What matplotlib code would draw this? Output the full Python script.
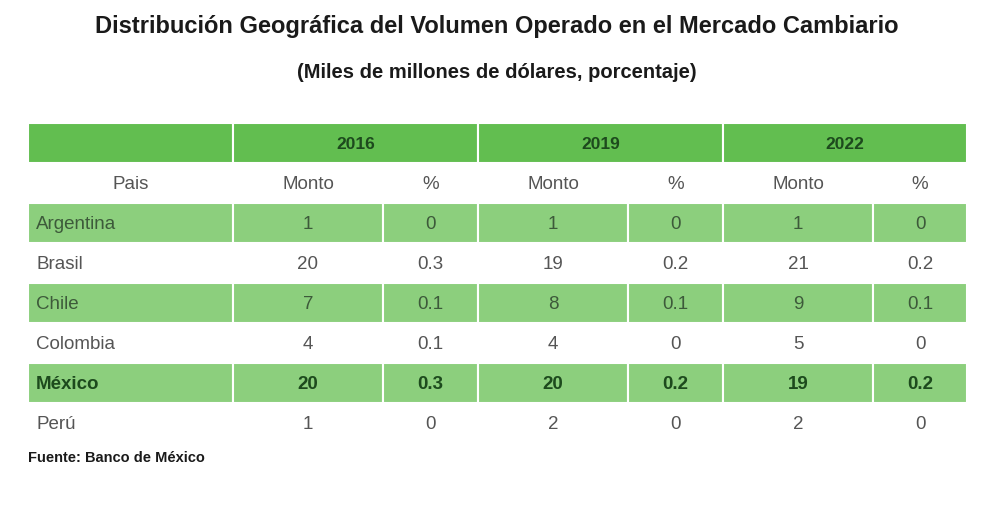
import matplotlib.pyplot as plt
from matplotlib.patches import Rectangle

years = ["2016", "2019", "2022"]
countries = ["Argentina", "Brasil", "Chile", "Colombia", "México", "Perú"]
monto_2016 = ["1", "20", "7", "4", "20", "1"]
pct_2016 = ["0", "0.3", "0.1", "0.1", "0.3", "0"]
monto_2019 = ["1", "19", "8", "4", "20", "2"]
pct_2019 = ["0", "0.2", "0.1", "0", "0.2", "0"]
monto_2022 = ["1", "21", "9", "5", "19", "2"]
pct_2022 = ["0", "0.2", "0.1", "0", "0.2", "0"]
shaded_rows = ["Argentina", "Chile", "México"]
bold_rows = ["México"]

title = "Distribución Geográfica del Volumen Operado en el Mercado Cambiario"
subtitle = "(Miles de millones de dólares, porcentaje)"
source = "Fuente: Banco de México"

# layout in pixels
col_edges = [28, 233, 383, 478, 628, 723, 873, 967]
top = 123
row_h = 40
dy = 1.5  # nudge text a bit down so it sits centred in the cells
header_col = "#62be50"
row_col = "#8ccf7d"
dark_green = "#1d4a1d"
cell_green_txt = "#3d5a3a"
gray_txt = "#555555"
body_fs = 13.5

plt.rcParams['font.family'] = ['Liberation Sans', 'DejaVu Sans']

fig = plt.figure(figsize=(10, 5.18), dpi=100)
ax = fig.add_axes([0, 0, 1, 1])
ax.set_xlim(0, 1000)
ax.set_ylim(518, 0)
ax.axis('off')

fig.text(0.497, 1 - 27 / 518, title, ha='center', va='center',
         fontsize=17, fontweight='bold', color='#1a1a1a')
fig.text(0.497, 1 - 73 / 518, subtitle, ha='center', va='center',
         fontsize=14.5, fontweight='bold', color='#1a1a1a')

def cell(x0, x1, y0, color):
    ax.add_patch(Rectangle((x0, y0), x1 - x0, row_h, facecolor=color,
                           edgecolor='white', linewidth=1.5))

# year header row
cell(col_edges[0], col_edges[1], top, header_col)
for k, yr in enumerate(years):
    x0 = col_edges[1 + 2 * k]
    x1 = col_edges[3 + 2 * k]
    cell(x0, x1, top, header_col)
    ax.text((x0 + x1) / 2, top + row_h / 2 + dy, yr, ha='center', va='center',
            fontsize=12.5, fontweight='bold', color=dark_green)

# subheader row
y_sub = top + row_h
ax.text((col_edges[0] + col_edges[1]) / 2, y_sub + row_h / 2 + dy, "Pais",
        ha='center', va='center', fontsize=body_fs, color=gray_txt)
for k in range(3):
    for j, lab in enumerate(["Monto", "%"]):
        x0 = col_edges[1 + 2 * k + j]
        x1 = col_edges[2 + 2 * k + j]
        ax.text((x0 + x1) / 2, y_sub + row_h / 2 + dy, lab, ha='center',
                va='center', fontsize=body_fs, color=gray_txt)

# body rows
cols = [monto_2016, pct_2016, monto_2019, pct_2019, monto_2022, pct_2022]
for i, c in enumerate(countries):
    y0 = top + row_h * (2 + i)
    shaded = c in shaded_rows
    bold = c in bold_rows
    if bold:
        txt_col = dark_green
    elif shaded:
        txt_col = cell_green_txt
    else:
        txt_col = gray_txt
    weight = 'bold' if bold else 'normal'
    if shaded:
        for j in range(7):
            cell(col_edges[j], col_edges[j + 1], y0, row_col)
    ax.text(col_edges[0] + 8, y0 + row_h / 2 + dy, c, ha='left', va='center',
            fontsize=body_fs, fontweight=weight, color=txt_col)
    for j, vals in enumerate(cols):
        xc = (col_edges[j + 1] + col_edges[j + 2]) / 2
        ax.text(xc, y0 + row_h / 2 + dy, vals[i], ha='center', va='center',
                fontsize=body_fs, fontweight=weight, color=txt_col)

ax.text(col_edges[0], 458, source, ha='left', va='center', fontsize=10.5,
        fontweight='bold', color='#1a1a1a')

fig.savefig('out.png', dpi=100, facecolor='white')
